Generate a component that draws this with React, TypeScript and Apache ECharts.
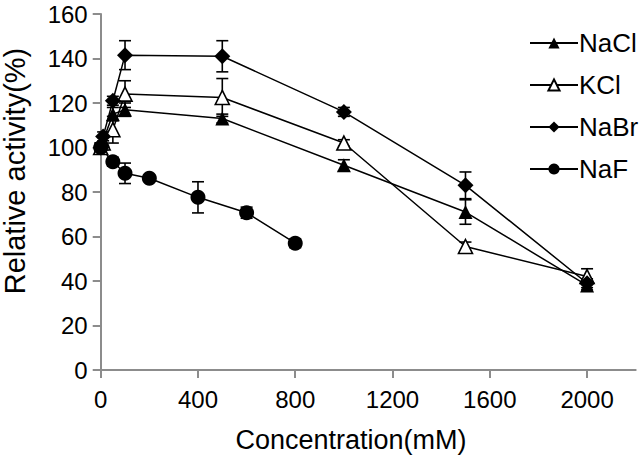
import React, { useEffect, useRef } from "react";
import * as echarts from "echarts";

const xSalt = [0, 10, 50, 100, 500, 1000, 1500, 2000];
const naCl = [100, 103, 115, 117, 113, 92, 71, 38];
const naClErr = [2, 2, 3, 3, 2, 2.5, 5.5, 2];
const kCl = [100, 102, 108, 124, 122.5, 102, 55.5, 42];
const kClErr = [2, 3, 6, 6, 8.5, 1.5, 2, 3.5];
const naBr = [100, 105, 121, 141.5, 141, 116, 83, 39];
const naBrErr = [2, 2, 2, 6.5, 7, 2, 6, 2];
const xNaF = [0, 50, 100, 200, 400, 600, 800];
const naF = [100, 93.6, 88.4, 86.2, 77.6, 70.7, 57];
const naFErr = [2, 2, 4.6, 1, 7, 2.5, 2];

const xTicks = [0, 400, 800, 1200, 1600, 2000];
const seriesNames = ["NaCl", "KCl", "NaBr", "NaF"];
const xTitle = "Concentration(mM)";
const yTitle = "Relative activity(%)";

const FONT = "'Liberation Sans', Arial, sans-serif";

function pairs(xs: number[], ys: number[]) {
  return xs.map((x, i) => [x, ys[i]]);
}
function errs(xs: number[], ys: number[], es: number[]) {
  return xs.map((x, i) => [x, ys[i] - es[i], ys[i] + es[i]]);
}

const errRender = (params: any, api: any) => {
  const x = api.value(0);
  const lo = api.value(1);
  const hi = api.value(2);
  const top = api.coord([x, hi]);
  const bot = api.coord([x, lo]);
  const w = 6;
  const st = { stroke: "#000", lineWidth: 1.6 };
  return {
    type: "group",
    children: [
      { type: "line", shape: { x1: top[0], y1: top[1], x2: bot[0], y2: bot[1] }, style: st },
      { type: "line", shape: { x1: top[0] - w, y1: top[1], x2: top[0] + w, y2: top[1] }, style: st },
      { type: "line", shape: { x1: bot[0] - w, y1: bot[1], x2: bot[0] + w, y2: bot[1] }, style: st },
    ],
  };
};

export default function App() {
  const ref = useRef<HTMLDivElement>(null);
  useEffect(() => {
    document.body.style.margin = "0";
    const chart = echarts.init(ref.current!, null, { renderer: "svg" });
    const lineBase = (name: string, data: number[][], symbol: string, size: number, fill: string) => ({
      name,
      type: "line",
      data,
      symbol,
      symbolSize: size,
      showSymbol: true,
      lineStyle: { color: "#000", width: 1.5 },
      itemStyle: { color: fill, borderColor: "#000", borderWidth: fill === "#fff" ? 1.6 : 0 },
      z: 3,
    });
    const errSeries = (name: string, data: number[][]) => ({
      name,
      type: "custom",
      renderItem: errRender,
      data,
      encode: { x: 0, y: [1, 2] },
      z: 2,
      silent: true,
    });
    chart.setOption({
      animation: false,
      backgroundColor: "#fff",
      textStyle: { fontFamily: FONT },
      grid: { left: 100.7, right: 5.3, top: 14, bottom: 87, containLabel: false, outerBoundsMode: "none" },
      legend: {
        data: seriesNames,
        orient: "vertical",
        left: 524,
        top: 25,
        itemWidth: 48,
        itemHeight: 14,
        itemGap: 16,
        textStyle: { fontSize: 26, color: "#000", fontFamily: FONT, padding: [0, 0, 0, -4] },
      },
      xAxis: {
        type: "value",
        min: 0,
        max: 2200,
        interval: 400,
        splitLine: { show: false },
        axisLine: { lineStyle: { color: "#8c8c8c", width: 2 } },
        axisTick: { show: true, length: 8, lineStyle: { color: "#8c8c8c", width: 2 }, customValues: xTicks },
        axisLabel: {
          fontSize: 24,
          color: "#000",
          margin: 17,
          fontFamily: FONT,
          customValues: xTicks,
          formatter: (v: number) => String(v),
        },
      },
      yAxis: {
        type: "value",
        min: 0,
        max: 160,
        interval: 20,
        splitLine: { show: false },
        axisLine: { show: true, lineStyle: { color: "#8c8c8c", width: 2 } },
        axisTick: { show: true, length: 8, lineStyle: { color: "#8c8c8c", width: 2 } },
        axisLabel: { fontSize: 24, color: "#000", margin: 13, fontFamily: FONT, formatter: (v: number) => String(v) },
      },
      graphic: [
        {
          type: "text",
          x: 15,
          y: 171,
          rotation: Math.PI / 2,
          style: { text: yTitle, fontSize: 29, fontFamily: FONT, fill: "#000", align: "center", verticalAlign: "middle" },
        },
        {
          type: "text",
          x: 351,
          y: 440,
          style: { text: xTitle, fontSize: 27, fontFamily: FONT, fill: "#000", align: "center", verticalAlign: "middle" },
        },
      ],
      series: [
        errSeries("NaCl-err", errs(xSalt, naCl, naClErr)),
        errSeries("KCl-err", errs(xSalt, kCl, kClErr)),
        errSeries("NaBr-err", errs(xSalt, naBr, naBrErr)),
        errSeries("NaF-err", errs(xNaF, naF, naFErr)),
        lineBase("NaCl", pairs(xSalt, naCl), "triangle", 14, "#000"),
        lineBase("KCl", pairs(xSalt, kCl), "triangle", 14, "#fff"),
        lineBase("NaBr", pairs(xSalt, naBr), "diamond", 16, "#000"),
        lineBase("NaF", pairs(xNaF, naF), "circle", 15, "#000"),
      ],
    });
    return () => chart.dispose();
  }, []);
  return <div ref={ref} style={{ width: 641, height: 457 }} />;
}
